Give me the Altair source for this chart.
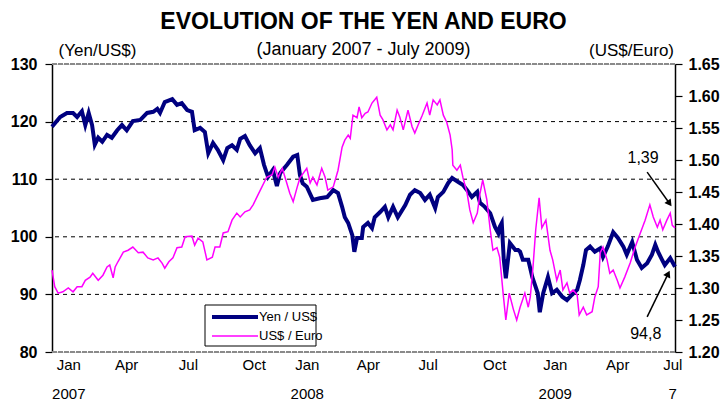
import altair as alt
import pandas as pd

# ---------------- data ----------------
START = "2007-01-02"  # day 0 of the series

yen_days = [0, 12, 22, 31, 37, 44, 49, 54, 59, 63, 68, 74, 81, 88, 96, 103, 110, 119, 130, 140,
            149, 155, 159, 166, 177, 184, 191, 199, 206, 210, 218, 225, 230, 237, 244, 252, 258, 265,
            272, 277, 284, 291, 299, 306, 312, 318, 325, 331, 336, 346, 355, 361, 365, 369, 375, 384,
            394, 405, 414, 421, 427, 431, 436, 442, 445, 449, 456, 458, 465, 471, 475, 483, 490, 495,
            502, 509, 520, 527, 534, 542, 549, 556, 564, 568, 576, 583, 589, 598, 605, 611, 618, 626,
            630, 637, 645, 652, 657, 659, 662, 665, 668, 674, 682, 686, 689, 693, 701, 707, 711, 715,
            718, 723, 730, 736, 743, 751, 758, 765, 773, 777, 782, 786, 792, 799, 807, 811, 818, 826,
            833, 841, 846, 854, 861, 868, 876, 883, 888, 892, 898, 902, 910, 917]
yen_vals = [119.1, 120.8, 121.5, 121.5, 120.8, 121.8, 119.4, 121.5, 119.4, 116.0, 117.2, 116.5, 117.7,
            117.2, 118.5, 119.4, 118.5, 120.1, 120.3, 121.5, 121.7, 122.2, 121.5, 123.4, 123.9, 122.9,
            123.2, 122.0, 121.7, 118.5, 118.9, 118.2, 114.5, 116.3, 115.1, 113.3, 115.4, 115.9, 115.1,
            117.0, 117.5, 115.9, 114.5, 115.4, 112.5, 110.4, 111.6, 108.8, 111.1, 112.5, 113.9, 114.2,
            110.7, 109.3, 108.7, 106.4, 106.7, 106.9, 108.1, 107.6, 105.2, 103.4, 102.4, 100.3, 97.4,
            99.8, 99.8, 101.7, 102.4, 101.5, 103.4, 104.3, 105.2, 103.4, 105.2, 103.4, 105.5, 107.3,
            108.1, 107.6, 106.4, 107.3, 105.0, 106.9, 107.8, 109.3, 110.2, 109.5, 109.0, 108.1, 106.9,
            107.8, 105.9, 105.2, 104.1, 101.7, 100.6, 101.7, 102.4, 96.0, 92.8, 98.9, 97.7, 97.7, 97.4,
            96.0, 96.0, 93.0, 91.6, 90.2, 86.9, 90.2, 93.0, 90.2, 90.8, 89.6, 89.0, 89.9, 90.8, 92.5,
            95.1, 97.7, 98.3, 97.4, 98.0, 96.5, 98.3, 100.8, 99.8, 98.3, 96.9, 99.1, 96.0, 94.6, 95.4,
            96.9, 98.6, 97.4, 96.0, 95.1, 96.3, 94.8]

eur_days = [0, 4, 9, 16, 24, 31, 37, 44, 49, 56, 60, 68, 75, 81, 85, 90, 93, 97, 105, 112, 119, 127,
            134, 141, 149, 156, 162, 166, 172, 178, 184, 191, 196, 206, 210, 215, 222, 228, 236, 240,
            247, 252, 259, 265, 272, 277, 284, 291, 296, 303, 309, 316, 324, 328, 333, 339, 343, 350,
            355, 361, 365, 375, 380, 384, 390, 397, 402, 406, 414, 421, 427, 431, 436, 439, 443, 449,
            452, 456, 461, 465, 471, 475, 478, 483, 487, 493, 498, 502, 508, 512, 517, 524, 530, 534,
            539, 545, 549, 552, 556, 561, 567, 571, 576, 581, 586, 589, 590, 596, 601, 605, 611, 615,
            620, 626, 630, 634, 640, 645, 649, 655, 659, 664, 668, 673, 679, 684, 689, 696, 701, 704,
            708, 712, 717, 721, 727, 733, 737, 743, 748, 752, 758, 762, 767, 773, 776, 782, 787, 795,
            799, 804, 807, 811, 817, 821, 826, 832, 836, 843, 851, 858, 866, 873, 880, 885, 891, 895,
            899, 905, 910, 913, 917]
eur_vals = [1.328, 1.302, 1.292, 1.294, 1.300, 1.294, 1.302, 1.302, 1.312, 1.317, 1.323, 1.312, 1.320,
            1.333, 1.336, 1.316, 1.333, 1.341, 1.356, 1.359, 1.364, 1.355, 1.356, 1.347, 1.344, 1.347,
            1.339, 1.331, 1.341, 1.347, 1.363, 1.364, 1.380, 1.381, 1.367, 1.378, 1.372, 1.344, 1.348,
            1.364, 1.364, 1.386, 1.388, 1.406, 1.417, 1.411, 1.419, 1.422, 1.430, 1.445, 1.458, 1.473,
            1.477, 1.489, 1.473, 1.487, 1.473, 1.448, 1.435, 1.458, 1.472, 1.487, 1.464, 1.473, 1.461,
            1.487, 1.473, 1.453, 1.458, 1.484, 1.520, 1.531, 1.539, 1.534, 1.570, 1.566, 1.583, 1.566,
            1.573, 1.575, 1.589, 1.594, 1.598, 1.570, 1.563, 1.547, 1.555, 1.547, 1.578, 1.567, 1.547,
            1.578, 1.552, 1.542, 1.555, 1.570, 1.581, 1.589, 1.570, 1.594, 1.586, 1.594, 1.570, 1.559,
            1.539, 1.516, 1.492, 1.484, 1.492, 1.472, 1.448, 1.422, 1.402, 1.417, 1.448, 1.469, 1.438,
            1.391, 1.359, 1.363, 1.348, 1.292, 1.250, 1.292, 1.267, 1.250, 1.270, 1.292, 1.270, 1.286,
            1.333, 1.391, 1.441, 1.394, 1.406, 1.359, 1.344, 1.312, 1.328, 1.297, 1.308, 1.292, 1.297,
            1.289, 1.258, 1.270, 1.258, 1.263, 1.286, 1.302, 1.355, 1.364, 1.344, 1.323, 1.328, 1.312,
            1.300, 1.317, 1.339, 1.363, 1.386, 1.406, 1.430, 1.411, 1.395, 1.406, 1.391, 1.406, 1.417,
            1.398, 1.394]

series_names = ["Yen / US$", "US$ / Euro"]
series_colors = ["#000080", "#FF00FF"]

title_text = "EVOLUTION OF THE YEN AND EURO"
subtitle_text = "(January 2007 - July 2009)"

yen_ticks = [80, 90, 100, 110, 120, 130]
eur_ticks = [1.20, 1.25, 1.30, 1.35, 1.40, 1.45, 1.50, 1.55, 1.60, 1.65]
grid_vals = [90, 100, 110, 120]
frame_vals = [80, 130]
x_tick_dates = [(2007, 1, 26), (2007, 4, 21), (2007, 7, 21), (2007, 10, 26), (2008, 1, 12),
                (2008, 4, 11), (2008, 7, 8), (2008, 10, 14), (2009, 1, 11), (2009, 4, 13),
                (2009, 7, 3)]

# annotations: text position, arrow tail, arrow head (day offset, value)
eur_note = {"text": "1,39", "day": 870, "val": 1.503, "day1": 876, "val1": 1.481, "day2": 909, "val2": 1.432}
yen_note = {"text": "94,8", "day": 874, "val": 83.1, "day1": 876, "val1": 86.1, "day2": 907, "val2": 93.6}

# ---------------- build frames ----------------
start = pd.Timestamp(START)


def to_dates(days):
    return [start + pd.Timedelta(days=int(d)) for d in days]


yen_df = pd.DataFrame({"date": to_dates(yen_days), "v": yen_vals})
eur_df = pd.DataFrame({"date": to_dates(eur_days), "v": eur_vals})
grid_df = pd.DataFrame({"v": grid_vals})
frame_df = pd.DataFrame({"v": frame_vals})


def note_df(n):
    return pd.DataFrame({
        "text": [n["text"]],
        "date": to_dates([n["day"]]), "v": [n["val"]],
        "date1": to_dates([n["day1"]]), "v1": [n["val1"]],
        "date2": to_dates([n["day2"]]), "v2": [n["val2"]],
    })


FONT = "Liberation Sans, Arial, sans-serif"

x_scale = alt.Scale(domain=[alt.DateTime(year=2007, month=1, date=2),
                            alt.DateTime(year=2009, month=7, date=7)])
yen_scale = alt.Scale(domain=[80, 130], nice=False, zero=False)
eur_scale = alt.Scale(domain=[1.20, 1.65], nice=False, zero=False)

label_expr = ("[timeFormat(datum.value, '%b'), "
              "timeFormat(datum.value, '%m') == '01' ? timeFormat(datum.value, '%Y') : "
              "(timeFormat(datum.value, '%Y%m') == '200907' ? '7' : '')]")

x_axis = alt.Axis(values=[alt.DateTime(year=y, month=m, date=d) for (y, m, d) in x_tick_dates],
                  labelExpr=label_expr, ticks=False, domain=False, grid=False, title=None,
                  labelPadding=5, labelFontSize=15, labelLineHeight=29, labelOverlap=False,
                  labelFlush=False, labelBound=False, labelFont=FONT, labelColor="black")

left_axis = alt.Axis(values=yen_ticks, grid=False, domainColor="black", domainWidth=1.5,
                     tickColor="black", tickSize=7, tickWidth=1.2, labelPadding=8,
                     labelFont=FONT, labelFontSize=16, labelFontWeight="bold", labelColor="black",
                     title="(Yen/US$)", titleAngle=0, titleX=45, titleY=-9, titleAlign="center",
                     titleBaseline="alphabetic", titleFont=FONT, titleFontSize=17,
                     titleFontWeight="normal", titleColor="black")

right_axis = alt.Axis(values=eur_ticks, format=".2f", orient="right", grid=False,
                      domainColor="black", domainWidth=1.5, tickColor="black", tickSize=7,
                      tickWidth=1.2, labelPadding=6, labelFont=FONT, labelFontSize=16,
                      labelFontWeight="bold", labelColor="black",
                      title="(US$/Euro)", titleAngle=0, titleX=-44, titleY=-9, titleAlign="center",
                      titleBaseline="alphabetic", titleFont=FONT, titleFontSize=17,
                      titleFontWeight="normal", titleColor="black")


def X(field):
    return alt.X(field, scale=x_scale, axis=x_axis)


def YL(field):
    return alt.Y(field, scale=yen_scale, axis=left_axis)


def YR(field):
    return alt.Y(field, scale=eur_scale, axis=right_axis)


# ---------------- left (yen) group ----------------
grid = alt.Chart(grid_df).mark_rule(color="black", strokeWidth=1, strokeDash=[4, 4]).encode(
    y=YL("v:Q"))
frame = alt.Chart(frame_df).mark_rule(color="#8a8a8a", strokeWidth=2, strokeDash=[5, 1]).encode(
    y=YL("v:Q"))

yen_line = alt.Chart(yen_df).mark_line(color=series_colors[0], strokeWidth=4).encode(
    x=X("date:T"), y=YL("v:Q"))

yn = note_df(yen_note)
yen_arrow = alt.Chart(yn).mark_rule(color="black", strokeWidth=1.5).encode(
    x=X("date1:T"), x2="date2:T", y=YL("v1:Q"), y2="v2:Q")
yen_head = alt.Chart(yn).mark_point(shape="triangle-up", filled=True, size=60, angle=26,
                                    color="black", opacity=1).encode(
    x=X("date2:T"), y=YL("v2:Q"))
yen_text = alt.Chart(yn).mark_text(font=FONT, fontSize=16, color="black", align="center",
                                   baseline="middle").encode(
    x=X("date:T"), y=YL("v:Q"), text="text:N")

# legend box (drawn by hand, inside the plot)
leg_df = pd.DataFrame({"name": series_names, "color": series_colors})
one = leg_df.head(1)
leg_box = alt.Chart(one).mark_rect(fill="white", stroke="black", strokeWidth=1).encode(
    x=alt.value(153), x2=alt.value(264), y=alt.value(241), y2=alt.value(282))
leg_yen = alt.Chart(one).mark_rule(color=series_colors[0], strokeWidth=4).encode(
    x=alt.value(160), x2=alt.value(206), y=alt.value(253))
leg_eur = alt.Chart(one).mark_rule(color=series_colors[1], strokeWidth=1.5).encode(
    x=alt.value(160), x2=alt.value(206), y=alt.value(272))
leg_t1 = alt.Chart(one).mark_text(text=series_names[0], font=FONT, fontSize=13,
                                  align="left", baseline="middle", color="black").encode(
    x=alt.value(207), y=alt.value(253))
leg_t2 = alt.Chart(one).mark_text(text=series_names[1], font=FONT, fontSize=13,
                                  align="left", baseline="middle", color="black").encode(
    x=alt.value(207), y=alt.value(272))

# chart title and subtitle as text marks above the plot area
ttl = alt.Chart(one).mark_text(text=title_text, font=FONT, fontSize=23, fontWeight="bold",
                               align="center", baseline="alphabetic", color="black").encode(
    x=alt.value(311.5), y=alt.value(-35))
sub = alt.Chart(one).mark_text(text=subtitle_text, font=FONT, fontSize=18,
                               align="center", baseline="alphabetic", color="black").encode(
    x=alt.value(311.5), y=alt.value(-9))

left_group = alt.layer(grid, frame, yen_line, yen_arrow, yen_head, yen_text,
                       leg_box, leg_yen, leg_eur, leg_t1, leg_t2, ttl, sub)

# ---------------- right (euro) group ----------------
eur_line = alt.Chart(eur_df).mark_line(color=series_colors[1], strokeWidth=1.5).encode(
    x=X("date:T"), y=YR("v:Q"))

en = note_df(eur_note)
eur_arrow = alt.Chart(en).mark_rule(color="black", strokeWidth=1.5).encode(
    x=X("date1:T"), x2="date2:T", y=YR("v1:Q"), y2="v2:Q")
eur_head = alt.Chart(en).mark_point(shape="triangle-up", filled=True, size=60, angle=144,
                                    color="black", opacity=1).encode(
    x=X("date2:T"), y=YR("v2:Q"))
eur_text = alt.Chart(en).mark_text(font=FONT, fontSize=16, color="black", align="center",
                                   baseline="middle").encode(
    x=X("date:T"), y=YR("v:Q"), text="text:N")

right_group = alt.layer(eur_line, eur_arrow, eur_head, eur_text)

chart = alt.layer(left_group, right_group).resolve_scale(y="independent").properties(
    width=623, height=288,
    autosize=alt.AutoSizeParams(type="none"),
    padding={"left": 44, "top": 56, "right": 45, "bottom": 51},
).configure_view(strokeOpacity=0).configure(background="white")

chart.save("out.html", embed_options={"renderer": "svg", "actions": False})
